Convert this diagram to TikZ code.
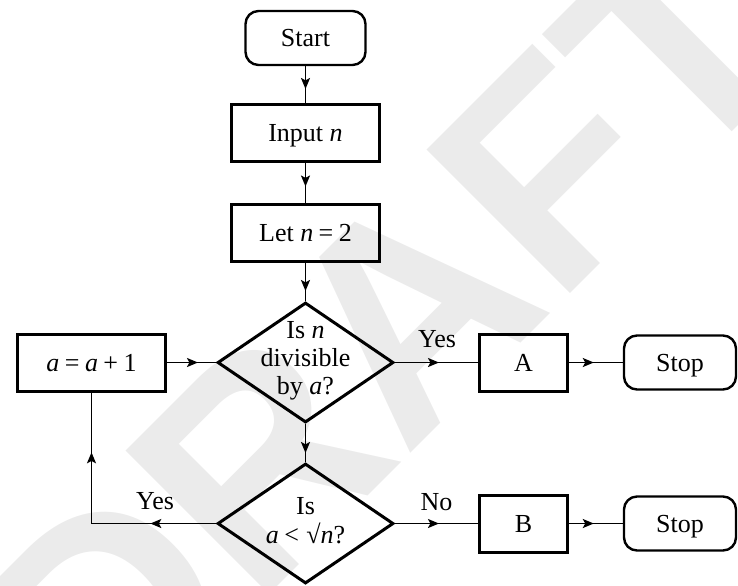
\documentclass[tikz,border=0pt]{standalone}
\usepackage{fontspec}
\setmainfont{Liberation Serif}
\newfontfamily\wmfont{Liberation Sans}
\usetikzlibrary{shapes.geometric,arrows.meta,decorations.markings}
\definecolor{wmgray}{HTML}{EBEBEB}
\newcommand{\opgap}{\hspace{0.21em}}
\tikzset{flowtip/.tip={Stealth[length=5.5pt,width=4.5pt,inset=1.2pt]}}

\begin{document}
\begin{tikzpicture}[x=0.5pt,y=-0.5pt,
  every node/.style={font=\fontsize{13}{14}\selectfont, inner sep=0pt},
  procbox/.style={draw, line width=1.5pt, minimum width=#1, minimum height=28.5pt,
    text height=8.6pt, text depth=0pt},
  procbox/.default=74pt,
  termbox/.style={draw, line width=1.2pt, rounded corners=6.5pt, minimum width=#1,
    minimum height=27pt, text height=8.6pt, text depth=0pt},
  decision/.style={draw, diamond, line width=1.5pt, minimum width=88pt, minimum height=60pt},
  flow/.style={line width=0.85pt},
  tipat/.style={postaction={decorate}, decoration={markings,
    mark=at position #1 with {\arrow{flowtip}}}},
  twotips/.style 2 args={postaction={decorate}, decoration={markings,
    mark=at position #1 with {\arrow{flowtip}},
    mark=at position #2 with {\arrow{flowtip}}}},
]
\useasboundingbox (0,0) rectangle (738,585);

% watermark
\node[anchor=base, rotate=45, text=wmgray,
  font=\wmfont\bfseries\fontsize{147.5}{150}\selectfont] (wm) at (458,406) {DRAFT};

% main column
\node[termbox=60pt] (start) at (305.5,38) {Start};
\node[procbox] (input) at (305.5,133) {Input \textit{n}};
\node[procbox] (let) at (305.5,232.5) {Let \textit{n}\opgap=\opgap2};
\node[decision] (d1) at (305.5,362.5) {};
\node[align=center, anchor=north, font=\fontsize{13}{14}\selectfont] (d1txt) at (305.5,320.8)
  {Is \textit{n}\\divisible\\by \textit{a}?};
\node[decision] (d2) at (305.5,523.5) {};
\node[align=center, anchor=north, font=\fontsize{13}{14.5}\selectfont] (d2txt) at (305.5,496.8)
  {Is\\\textit{a}\opgap<\hspace{0.28em}√\textit{n}?};

% side boxes
\node[procbox] (inc) at (91.5,362.5) {\textit{a}\opgap=\opgap\textit{a}\opgap+\opgap1};
\node[procbox=44pt] (boxA) at (523.5,362.5) {A};
\node[termbox=56pt] (stop1) at (680,362.5) {Stop};
\node[procbox=44pt] (boxB) at (523.5,523.5) {B};
\node[termbox=56pt] (stop2) at (680,523.5) {Stop};

% connectors
\draw[flow, tipat=-7pt] (start) -- (input);
\draw[flow, tipat=-8pt] (input) -- (let);
\draw[flow, tipat=-5pt] (let) -- (d1);
\draw[flow, tipat=-4.5pt] (d1) -- (d2);
\draw[flow, tipat=-9pt] (inc) -- (d1);
\draw[flow, tipat=-19.5pt] (d1) -- (boxA);
\draw[flow, tipat=-14.5pt] (boxA) -- (stop1);
\draw[flow, tipat=-19.5pt] (d2) -- (boxB);
\draw[flow, tipat=-14.5pt] (boxB) -- (stop2);
\draw[flow, twotips={32.85pt}{97.85pt}] (d2.west) -| (inc.south);

% branch labels
\node[anchor=base] (yes1) at (437,347) {Yes};
\node[anchor=base] (no2) at (436.5,510) {No};
\node[anchor=base] (yes2) at (155,509) {Yes};
\end{tikzpicture}
\end{document}
